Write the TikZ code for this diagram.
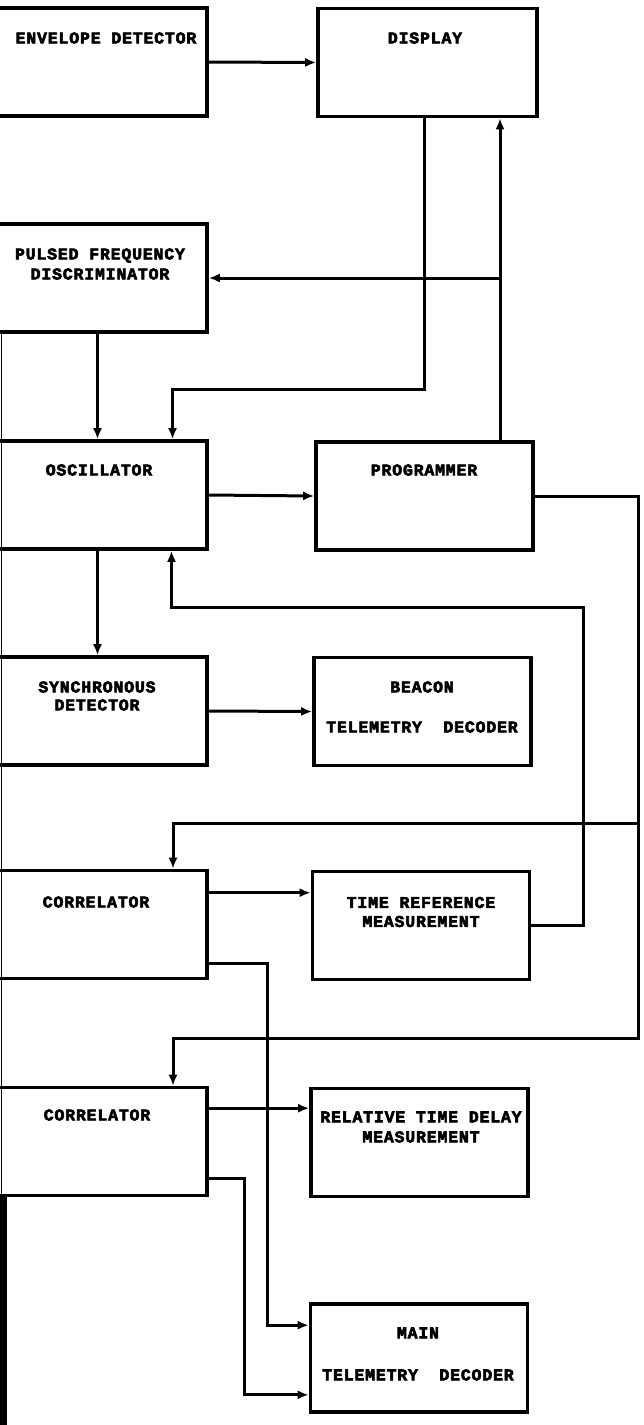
\documentclass[tikz,border=0pt]{standalone}
\usepackage{fontspec}
\usepackage{tikz}
\usetikzlibrary{arrows.meta}
\newfontfamily\blkfont[LetterSpace=5,FakeBold=3.5]{Liberation Mono}

\begin{document}
\begin{tikzpicture}[x=1pt,y=-1pt,
  blk/.style={draw,line width=3.6pt,minimum width=217pt,minimum height=108pt,inner sep=0pt},
  lblk/.style={blk,minimum width=219pt},
  lbl/.style={font=\blkfont\bfseries\fontsize{16.5}{20}\selectfont,align=center,inner sep=0pt},
  ln/.style={line width=3pt},
  ar/.style={ln,-{Latex[length=11pt,width=9pt]}}]
  \useasboundingbox (0,0) rectangle (643,1425);
  \clip (0,0) rectangle (643,1425);
  % boxes
  \node[lblk] (envdet) at (97.5,62) {};
  \node[blk,minimum width=219pt] (disp) at (427.5,62.5) {};
  \node[lblk] (pfd) at (97.5,278) {};
  \node[lblk] (osc) at (97.5,495) {};
  \node[blk] (prog) at (424.5,496) {};
  \node[lblk] (sync) at (97.5,711) {};
  \node[blk] (beacon) at (422.5,711.5) {};
  \node[lblk] (corr1) at (97.5,924.5) {};
  \node[blk] (trm) at (421,925.5) {};
  \node[lblk] (corr2) at (97.5,1141.5) {};
  \node[blk] (rtdm) at (419.5,1142.5) {};
  \node[blk] (main) at (419,1358) {};
  % texts
  \node[lbl] at (106,38) {ENVELOPE DETECTOR};
  \node[lbl] at (425,38) {DISPLAY};
  \node[lbl] at (100,264) {PULSED FREQUENCY\\DISCRIMINATOR};
  \node[lbl] at (99,470) {OSCILLATOR};
  \node[lbl] at (424,470) {PROGRAMMER};
  \node[lbl] at (97,696) {SYNCHRONOUS\\[-2pt]DETECTOR};
  \node[lbl] at (422,707) {BEACON\\[20pt]TELEMETRY~~DECODER};
  \node[lbl] at (96,902) {CORRELATOR};
  \node[lbl] at (421,912) {TIME REFERENCE\\[-1pt]MEASUREMENT};
  \node[lbl] at (97,1115) {CORRELATOR};
  \node[lbl] at (421,1127) {RELATIVE TIME DELAY\\MEASUREMENT};
  \node[lbl] at (418,1354) {MAIN\\[22pt]TELEMETRY~~DECODER};
  % connectors
  \coordinate (progup) at ([xshift=75.5pt]prog.north);
  \draw[ar] (envdet.east) -- (disp.west);
  \draw[ar] (progup) -- (progup |- disp.south);
  \draw[ar] (pfd.east -| progup) -- (pfd.east);
  \draw[ar] ([xshift=-3.5pt]disp.south) -- ++(0,271) -| ([xshift=75pt]osc.north);
  \draw[ar] (pfd.south) -- (osc.north);
  \draw[ar] (osc.east) -- (prog.west);
  \draw[ar] (osc.south) -- (sync.north);
  \draw[ar] (sync.east) -- (beacon.west);
  \draw[ar] (trm.east) -| (583,607) -| ([xshift=74pt]osc.south);
  \draw[ar] (prog.east) -| (638,1038) -| ([xshift=75.5pt]corr2.north);
  \draw[ar] (638,823) -| ([xshift=75.5pt]corr1.north);
  \draw[ar] ([yshift=-24pt]corr1.north east) -- ([yshift=-24pt]corr1.north east -| trm.west);
  \draw[ar] ([yshift=-22.5pt]corr2.north east) -- ([yshift=-22.5pt]corr2.north east -| rtdm.west);
  \draw[ar] ([yshift=16.5pt]corr1.south east) -| ([xshift=-41pt,yshift=-23pt]main.north west) -- ([yshift=-23pt]main.north west);
  \draw[ar] ([yshift=18.5pt]corr2.south east) -| ([xshift=-64pt,yshift=19pt]main.south west) -- ([yshift=19pt]main.south west);
  % cut edge on the left
  \draw[line width=1.8pt] (1.5,333) -- (1.5,1196);
  \draw[line width=7pt] (3,1196) -- (3,1425);
\end{tikzpicture}
\end{document}
